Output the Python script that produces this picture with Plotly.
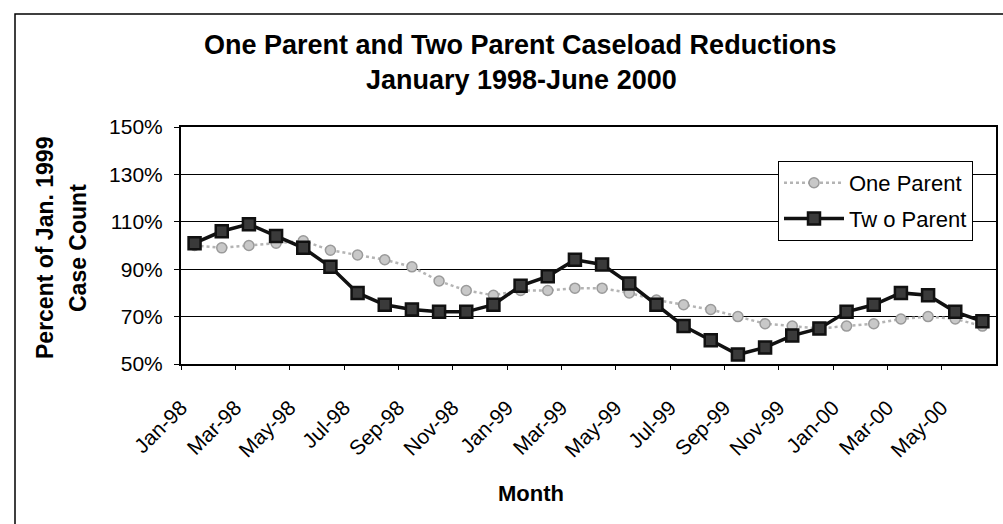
import plotly.graph_objects as go

months = ["Jan-98", "Feb-98", "Mar-98", "Apr-98", "May-98", "Jun-98",
          "Jul-98", "Aug-98", "Sep-98", "Oct-98", "Nov-98", "Dec-98",
          "Jan-99", "Feb-99", "Mar-99", "Apr-99", "May-99", "Jun-99",
          "Jul-99", "Aug-99", "Sep-99", "Oct-99", "Nov-99", "Dec-99",
          "Jan-00", "Feb-00", "Mar-00", "Apr-00", "May-00", "Jun-00"]

one_parent = [100, 99, 100, 101, 102, 98, 96, 94, 91, 85, 81, 79,
              81, 81, 82, 82, 80, 77, 75, 73, 70, 67, 66, 65,
              66, 67, 69, 70, 69, 66]

two_parent = [101, 106, 109, 104, 99, 91, 80, 75, 73, 72, 72, 75,
              83, 87, 94, 92, 84, 75, 66, 60, 54, 57, 62, 65,
              72, 75, 80, 79, 72, 68]

y_ticks = [50, 70, 90, 110, 130, 150]

FONT = "Arial, Liberation Sans, Helvetica, sans-serif"

# plot area in pixels (figure is 1003 x 524)
L, R, T, B = 181, 996, 127, 364
W, H = 1003, 524


def px_x(x):
	return (x - L) / (R - L)


def px_y(y):
	return (B - y) / (B - T)


idx = list(range(len(months)))

fig = go.Figure()

fig.add_trace(go.Scatter(
	x=idx, y=one_parent, name="One Parent", mode="lines+markers",
	text=months, hovertemplate="%{text}: %{y}%<extra>One Parent</extra>",
	line=dict(color="#b4b4b4", width=2.5, dash="dot"),
	marker=dict(symbol="circle", size=10, color="#c8c8c8",
				line=dict(color="#9a9a9a", width=1.5)),
	legendgroup="a"))

fig.add_trace(go.Scatter(
	x=idx, y=two_parent, name="Tw o Parent", mode="lines+markers",
	text=months, hovertemplate="%{text}: %{y}%<extra>Two Parent</extra>",
	line=dict(color="#111111", width=3.5),
	marker=dict(symbol="square", size=12, color="#3a3a3a",
				line=dict(color="#111111", width=2.5)),
	legendgroup="b"))

fig.update_xaxes(
	range=[-0.5, len(months) - 0.5],
	tickmode="array",
	tickvals=[i - 0.5 for i in idx[::2]],
	ticktext=months[::2],
	tickangle=-45,
	tickfont=dict(family=FONT, size=21, color="black"),
	ticks="outside", ticklen=4, tickcolor="black",
	ticklabelstandoff=17,
	showgrid=False, zeroline=False,
	showline=True, linecolor="black", linewidth=2, mirror=True,
	automargin=False)

fig.update_yaxes(
	range=[50, 150],
	tickvals=y_ticks,
	ticktext=[f"{v}%" for v in y_ticks],
	tickfont=dict(family=FONT, size=21, color="black"),
	ticks="outside", ticklen=5, tickcolor="black",
	ticklabelstandoff=7,
	showgrid=True, gridcolor="black", gridwidth=1.2,
	zeroline=False,
	showline=True, linecolor="black", linewidth=2, mirror=True,
	automargin=False)

annotations = [
	dict(text="<b>One Parent and Two Parent Caseload Reductions</b>",
		 x=px_x(520), y=px_y(45), font=dict(size=27)),
	dict(text="<b>January 1998-June 2000</b>",
		 x=px_x(521), y=px_y(80), font=dict(size=27)),
	dict(text="<b>Percent of Jan. 1999</b>", textangle=-90,
		 x=px_x(45), y=px_y(248), font=dict(size=23)),
	dict(text="<b>Case Count</b>", textangle=-90,
		 x=px_x(78), y=px_y(248), font=dict(size=23)),
	dict(text="<b>Month</b>",
		 x=px_x(531), y=px_y(493), font=dict(size=22)),
]
for a in annotations:
	a.update(xref="paper", yref="paper", showarrow=False,
			 xanchor="center", yanchor="middle")
	a["font"].update(family=FONT, color="black")

fig.update_layout(
	width=W, height=H,
	margin=dict(l=L, r=W - R, t=T, b=H - B, autoexpand=False),
	paper_bgcolor="white", plot_bgcolor="white",
	font=dict(family=FONT, color="black"),
	annotations=annotations,
	showlegend=True,
	legend=dict(x=px_x(778), y=px_y(161), xanchor="left", yanchor="top",
				bgcolor="white", bordercolor="black", borderwidth=1,
				font=dict(family=FONT, size=22, color="black"),
				itemwidth=60, tracegroupgap=4),
	shapes=[dict(type="rect", xref="paper", yref="paper",
				 x0=px_x(15), x1=px_x(1010), y0=px_y(540), y1=px_y(14),
				 line=dict(color="black", width=1.5), layer="below")],
)

# drop the default body margin so the figure sits at the page corner
fig.write_html("out.html", config={"displayModeBar": False},
			   post_script="document.body.style.margin='0';")
